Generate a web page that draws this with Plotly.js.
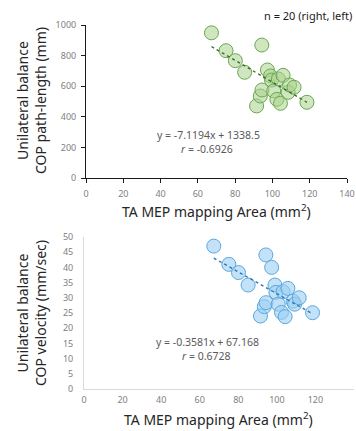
<!DOCTYPE html>
<html>
<head>
<meta charset="utf-8">
<script src="https://cdn.plot.ly/plotly-3.0.1.min.js"></script>
<style>html,body{margin:0;padding:0;background:#fff;}#chart{width:356px;height:431px;}</style>
</head>
<body>
<div id="chart"></div>
<script>
// Shared x: TA MEP mapping area (mm^2)
const mepArea = [67.3, 75.1, 80.1, 85.1, 91.5, 93.5, 94.3, 94.4, 97.3, 99.0, 99.5, 100.7, 102.4, 103.2, 104.3, 105.7, 108.4, 109.2, 111.6, 118.5];
// Top: COP path-length (mm)
const pathLength = [949, 832, 767, 691, 471, 536, 869, 575, 706, 667, 640, 569, 514, 647, 488, 671, 560, 608, 593, 495];
// Bottom: COP velocity (mm/sec)
const velocity = [47.0, 41.0, 38.3, 34.2, 24.0, 27.1, 44.1, 28.4, 40.0, 34.2, 31.8, 27.9, 25.2, 32.0, 23.8, 33.1, 28.9, 27.9, 30.0, 25.1];
// Trendline coefficients shown on the chart
const pathSlope = -7.1194, pathIntercept = 1338.5;
const velSlope = -0.3581, velIntercept = 67.168;
const xTicks = [0, 20, 40, 60, 80, 100, 120, 140];
const pathTicks = [0, 200, 400, 600, 800, 1000];
const velTicks = [0, 5, 10, 15, 20, 25, 30, 35, 40, 45, 50];

const W = 356, H = 431;
const px = v => v / W;
const py = v => 1 - v / H;

const xEnds = [Math.min(...mepArea), Math.max(...mepArea)];

const FONT = 'Noto Sans, Open Sans, sans-serif';

const traces = [
  {x: mepArea, y: pathLength, xaxis: 'x', yaxis: 'y', type: 'scatter', mode: 'markers',
   marker: {size: 14, color: 'rgba(169,209,142,0.55)', line: {color: '#6aa84f', width: 1}}, hoverinfo: 'skip'},
  {x: xEnds, y: xEnds.map(v => pathSlope * v + pathIntercept), xaxis: 'x', yaxis: 'y', type: 'scatter', mode: 'lines',
   line: {color: '#3b6e2a', width: 1.4, dash: 'dot'}, hoverinfo: 'skip'},
  {x: mepArea, y: velocity, xaxis: 'x2', yaxis: 'y2', type: 'scatter', mode: 'markers',
   marker: {size: 14, color: 'rgba(155,207,242,0.6)', line: {color: '#5aa8df', width: 1}}, hoverinfo: 'skip'},
  {x: xEnds, y: xEnds.map(v => velSlope * v + velIntercept), xaxis: 'x2', yaxis: 'y2', type: 'scatter', mode: 'lines',
   line: {color: '#2e75b6', width: 1.4, dash: 'dot'}, hoverinfo: 'skip'}
];

const tickFont = {family: FONT, size: 9, color: '#808080'};
const titleFont = {family: FONT, size: 14, color: '#262626'};
const eqFont = {family: FONT, size: 10.5, color: '#595959'};

const layout = {
  width: W, height: H,
  margin: {l: 0, r: 0, t: 0, b: 0},
  paper_bgcolor: '#fff', plot_bgcolor: '#fff',
  showlegend: false,
  xaxis: {domain: [px(86), px(347)], anchor: 'y', range: [0, 140], tickvals: xTicks, ticktext: xTicks.map(String),
          showgrid: false, zeroline: false, showline: true, linecolor: '#1a1a1a', linewidth: 1,
          ticks: 'outside', ticklen: 4, tickcolor: '#1a1a1a', tickfont: tickFont, ticklabelstandoff: 3, fixedrange: true},
  yaxis: {domain: [py(178), py(25)], anchor: 'x', range: [0, 1000], tickvals: pathTicks, ticktext: pathTicks.map(String),
          showgrid: false, zeroline: false, showline: true, linecolor: '#1a1a1a', linewidth: 1,
          ticks: 'outside', ticklen: 4, tickcolor: '#1a1a1a', tickfont: tickFont, ticklabelstandoff: 3, fixedrange: true},
  xaxis2: {domain: [px(84), px(354)], anchor: 'y2', range: [0, 140], tickvals: xTicks, ticktext: xTicks.map(String),
          showgrid: false, zeroline: false, showline: true, linecolor: '#d9d9d9', linewidth: 1,
          ticks: '', tickfont: tickFont, ticklabelstandoff: 2, fixedrange: true},
  yaxis2: {domain: [py(389), py(237)], anchor: 'x2', range: [0, 50], tickvals: velTicks, ticktext: velTicks.map(String),
          showgrid: false, zeroline: false, showline: true, linecolor: '#d9d9d9', linewidth: 1,
          ticks: '', tickfont: tickFont, ticklabelstandoff: 8, fixedrange: true},
  annotations: [
    {text: 'n = 20 (right, left)', xref: 'paper', yref: 'paper', x: px(354), y: py(15), xanchor: 'right', yanchor: 'middle',
     showarrow: false, font: {family: FONT, size: 11, color: '#1a1a1a'}},
    {text: 'Unilateral balance<br>COP path-length (mm)', xref: 'paper', yref: 'paper', x: px(31), y: py(101),
     xanchor: 'center', yanchor: 'middle', textangle: -90, showarrow: false, font: titleFont},
    {text: 'TA MEP mapping Area (mm<sup>2</sup>)', xref: 'paper', yref: 'paper', x: px(216), y: py(211),
     xanchor: 'center', yanchor: 'middle', showarrow: false, font: titleFont},
    {text: 'y = -7.1194x + 1338.5', xref: 'paper', yref: 'paper', x: px(208), y: py(135),
     xanchor: 'center', yanchor: 'middle', showarrow: false, font: eqFont},
    {text: '<i>r</i> = -0.6926', xref: 'paper', yref: 'paper', x: px(207), y: py(149),
     xanchor: 'center', yanchor: 'middle', showarrow: false, font: eqFont},
    {text: 'Unilateral balance<br>COP velocity (mm/sec)', xref: 'paper', yref: 'paper', x: px(31), y: py(313),
     xanchor: 'center', yanchor: 'middle', textangle: -90, showarrow: false, font: titleFont},
    {text: 'TA MEP mapping Area (mm<sup>2</sup>)', xref: 'paper', yref: 'paper', x: px(218), y: py(431),
     xanchor: 'center', yanchor: 'bottom', showarrow: false, font: titleFont},
    {text: 'y = -0.3581x + 67.168', xref: 'paper', yref: 'paper', x: px(207), y: py(342),
     xanchor: 'center', yanchor: 'middle', showarrow: false, font: eqFont},
    {text: '<i>r</i> = 0.6728', xref: 'paper', yref: 'paper', x: px(206), y: py(356),
     xanchor: 'center', yanchor: 'middle', showarrow: false, font: eqFont}
  ]
};

Plotly.newPlot('chart', traces, layout, {staticPlot: true, displayModeBar: false});
</script>
</body>
</html>
